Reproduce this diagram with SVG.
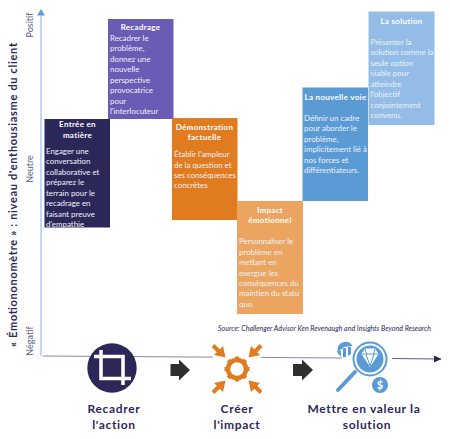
<svg xmlns="http://www.w3.org/2000/svg" width="450" height="439" viewBox="0 0 450 439">
<style>
text{font-family:"Lato","Liberation Sans",sans-serif}
.h{font-size:8px;font-weight:700;fill:#fff;text-anchor:middle;letter-spacing:.3px}
.b{font-size:7.9px;fill:#eef0f8}
.ax{font-size:9px;fill:#5f5c85;text-anchor:middle}
.l{font-size:12px;font-weight:700;fill:#2b2859;text-anchor:middle;letter-spacing:.65px}
.oa{fill:none;stroke:#e07b1f;stroke-width:4}
.ot{fill:#e07b1f}
</style>
<defs>
<marker id="ah" markerWidth="8" markerHeight="8" refX="7" refY="3.5" orient="auto" markerUnits="userSpaceOnUse"><path d="M0 0L7.5 3.5L0 7Z" fill="#2b2859"/></marker>
</defs>
<g id="connectors" fill="none">
<path d="M41 356V15" stroke="#b3d0ee" stroke-width="1.6"/>
<path d="M37 15.500L41 9L45 15.500Z" fill="#5b9bd5"/>
<path d="M43 356L344 358" stroke="#8886ab" stroke-width="1"/>
<path d="M391 358.500L441 359" stroke="#5c5a88" stroke-width="1" marker-end="url(#ah)"/>
</g>
<g id="axis-labels">
<text class="ax" transform="translate(33 25) rotate(-90)">Positif</text>
<text class="ax" transform="translate(33 169) rotate(-90)">Neutre</text>
<text class="ax" transform="translate(33 341) rotate(-90)">Négatif</text>
<text transform="translate(17 195) rotate(-90)" text-anchor="middle" font-size="11" font-weight="700" fill="#2b2859" textLength="304">« Émotiononomètre » : niveau d'enthousiasme du client</text>
</g>
<g id="node-entree">
<rect x="44.500" y="119" width="65.500" height="108.500" fill="#2b2859"/>
<text class="h" x="77.500" y="127">Entrée en</text><text class="h" x="77.500" y="137.500">matière</text>
<text class="b" x="46" y="154">Engager  une</text><text class="b" x="46" y="164">conversation</text><text class="b" x="46" y="175">collaborative et</text><text class="b" x="46" y="185">préparez le</text><text class="b" x="46" y="196">terrain pour le</text><text class="b" x="46" y="206">recadrage en</text><text class="b" x="46" y="217">faisant preuve</text><text class="b" x="46" y="227">d'empathie</text>
</g>
<g id="node-recadrage">
<rect x="108" y="19" width="65.500" height="100" fill="#6a5bb5"/>
<text class="h" x="140.500" y="30">Recadrage</text>
<text class="b" x="110" y="40.500">Recadrer le</text><text class="b" x="110" y="51">problème,</text><text class="b" x="110" y="61.500">donnez une</text><text class="b" x="110" y="72">nouvelle</text><text class="b" x="110" y="82.500">perspective</text><text class="b" x="110" y="93">provocatrice</text><text class="b" x="110" y="104">pour</text><text class="b" x="110" y="114">l'interlocuteur</text>
</g>
<g id="node-demonstration">
<rect x="172" y="118" width="65.500" height="102" fill="#e07b1f"/>
<text class="h" x="204.500" y="130">Démonstration</text><text class="h" x="204.500" y="140">factuelle</text>
<text class="b" x="174" y="157">Établir l'ampleur</text><text class="b" x="174" y="167.500">de la question et</text><text class="b" x="174" y="178">ses conséquences</text><text class="b" x="174" y="188">concrètes</text>
</g>
<g id="node-impact">
<rect x="237" y="201" width="66" height="113" fill="#eba561"/>
<text class="h" x="270" y="213">Impact</text><text class="h" x="270" y="223">émotionnel</text>
<text class="b" x="239" y="244">Personnaliser le</text><text class="b" x="239" y="254.500">problème en</text><text class="b" x="239" y="265">mettant en</text><text class="b" x="239" y="275.500">exergue les</text><text class="b" x="239" y="286">conséquences du</text><text class="b" x="239" y="296">maintien du statu</text><text class="b" x="239" y="307">quo.</text>
</g>
<g id="node-voie">
<rect x="302.500" y="87.500" width="65.500" height="113.500" fill="#5b9bd5"/>
<text class="h" x="335.500" y="99.500">La nouvelle voie</text>
<text class="b" x="304" y="120.500">Définir un cadre</text><text class="b" x="304" y="131">pour aborder le</text><text class="b" x="304" y="141.500">problème,</text><text class="b" x="304" y="152">implicitement lié à</text><text class="b" x="304" y="162.500">nos forces et</text><text class="b" x="304" y="173">différentiateurs.</text>
</g>
<g id="node-solution">
<rect x="368.500" y="11.500" width="66" height="113.500" fill="#93bde6"/>
<text class="h" x="401.500" y="23.500">La  solution</text>
<text class="b" x="370.500" y="44.500">Présenter la</text><text class="b" x="370.500" y="55">solution comme la</text><text class="b" x="370.500" y="65.500">seule option</text><text class="b" x="370.500" y="76">viable pour</text><text class="b" x="370.500" y="86.500">atteindre</text><text class="b" x="370.500" y="97">l'objectif</text><text class="b" x="370.500" y="107.500">conjointement</text><text class="b" x="370.500" y="118">convenu.</text>
</g>
<text x="218" y="331" font-size="7" font-style="italic" fill="#2b2859" textLength="213">Source: Challenger Advisor Ken Revenaugh and Insights Beyond Research</text>
<g id="step-recadrer">
<circle cx="112" cy="368" r="24.700" fill="#2b2859"/>
<path d="M94 356.500H123V385M101 350V378.500H131" fill="none" stroke="#fff" stroke-width="3.500"/>
<text class="l" x="114" y="413">Recadrer</text><text class="l" x="114" y="428.500">l'action</text>
</g>
<path id="arrow-1" d="M170.500 364H179V359.500L190 370L179 380.500V376H170.500Z" fill="#2f2f2f"/>
<g id="step-creer">
<circle cx="237" cy="369" r="27" fill="#fff"/>
<path class="oa" d="M213 345.500L220 352.500M261 345.500L254 352.500M213 392.500L220 385.500M261 392.500L254 385.500"/>
<path class="ot" d="M225.500 357.500L214 355L223 346Z"/>
<path class="ot" d="M248.500 357.500L260 355L251 346Z"/>
<path class="ot" d="M225.500 380.500L214 383L223 392Z"/>
<path class="ot" d="M248.500 380.500L260 383L251 392Z"/>
<circle cx="237" cy="369" r="9" fill="none" stroke="#e07b1f" stroke-width="4.500"/>
<path d="M237 356.500V361M237 377V381.500M224.500 369H229M245 369H249.500M228.200 360.200L231.300 363.300M245.800 360.200L242.700 363.300M228.200 377.800L231.300 374.700M245.800 377.800L242.700 374.700" stroke="#e07b1f" stroke-width="4"/>
<text class="l" x="237" y="413">Créer</text><text class="l" x="237" y="428.500">l'impact</text>
</g>
<path id="arrow-2" d="M293 364H302V359.500L313 370L302 380.500V376H293Z" fill="#2f2f2f"/>
<g id="step-mettre">
<circle cx="367" cy="365" r="26" fill="#fff"/>
<path d="M338 390L355 372" stroke="#5b9bd5" stroke-width="4" stroke-linecap="round"/>
<circle cx="370" cy="359" r="16.500" fill="#fff" stroke="#5b9bd5" stroke-width="2"/>
<circle cx="370" cy="359" r="13.500" fill="#5b9bd5"/>
<path d="M361.500 354L365 348.500H375L378.500 354L370 367Z" fill="#fff"/>
<path d="M361.500 354H378.500M366 354L370 366L374 354M365 349L366.500 354M375 349L373.500 354" fill="none" stroke="#5b9bd5" stroke-width="1"/>
<path d="M337.500 350A8 8 0 0 1 352.500 346L344 347L338 352Z" fill="#5b9bd5"/>
<path d="M337 351A8 8 0 0 0 341 356.500L341 351ZM343 348V357.500L346 357V348ZM348 347V356L351 354V347Z" fill="#5b9bd5"/>
<circle cx="380" cy="385" r="8" fill="#5b9bd5"/>
<text x="380" y="389" font-size="11" font-weight="700" fill="#fff" text-anchor="middle">$</text>
<text class="l" x="364" y="413">Mettre en valeur la</text><text class="l" x="367" y="428.500">solution</text>
</g>
</svg>
